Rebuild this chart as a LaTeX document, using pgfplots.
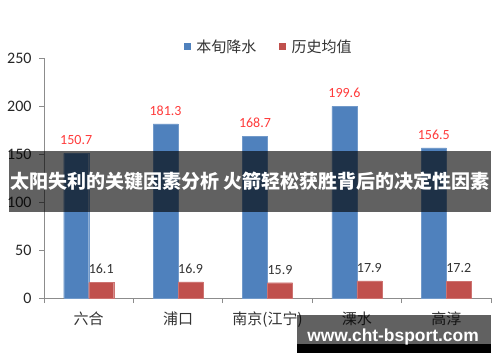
\documentclass[border=0pt]{standalone}
\usepackage{fontspec}
\setmainfont{Carlito}
\newfontfamily\cjk{Noto Sans CJK SC}
\newfontfamily\wm{Liberation Sans}
\usepackage{pgfplots}
\pgfplotsset{compat=1.18}
\definecolor{cblue}{HTML}{4F81BD}
\definecolor{cred}{HTML}{C0504D}
\definecolor{lblred}{HTML}{FF3B3B}
\definecolor{axgray}{HTML}{8C8C8C}
\definecolor{txt}{HTML}{333333}
\begin{document}
\begin{tikzpicture}[x=1pt,y=1pt]
\useasboundingbox (0,0) rectangle (500,362);
\begin{axis}[at={(44pt,64pt)}, anchor=south west, scale only axis,
  width=447pt, height=240pt,
  /pgf/number format/assume math mode=true,
  xmin=-0.5, xmax=4.5, ymin=0, ymax=250, ytick={0,50,...,250},
  xtick={0,...,4}, xticklabels={六合,浦口,南京(江宁),溧水,高淳},
  minor xtick={-0.5,0.5,...,4.5},
  axis x line*=bottom, axis y line*=left,
  axis line style={draw=axgray, line width=0.8pt},
  tick align=outside,
  major x tick style={draw=none},
  minor x tick style={draw=axgray, line width=0.8pt},
  major y tick style={draw=axgray, line width=0.8pt},
  major tick length=5pt, minor tick length=5pt,
  x tick label style={font=\cjk\fontsize{15}{18}\selectfont, text=txt, yshift=-5pt},
  y tick label style={font=\fontsize{16}{19}\selectfont, text=black!85, xshift=-4pt},
  ybar=0pt, bar width=25pt,
  legend style={at={(0.503,1.046)}, anchor=center, draw=none, fill=none,
    legend columns=2, font=\cjk\fontsize{15}{18}\selectfont, text=txt,
    /tikz/every even column/.append style={column sep=21pt}},
  legend image code/.code={\fill[#1,draw=none] (0pt,-3.5pt) rectangle (7pt,3.5pt); \path (10pt,0pt);},
  nodes near coords={\pgfmathprintnumber[fixed,fixed zerofill,precision=1]{\pgfplotspointmeta}},
  nodes near coords style={font=\fontsize{14}{16}\selectfont, anchor=south, yshift=5pt},
]
\addplot[fill=cblue, draw=cblue!80!white, every node near coord/.append style={text=lblred}]
  coordinates {(0,150.7) (1,181.3) (2,168.7) (3,199.6) (4,156.5)};
\addlegendentry{本旬降水}
\addplot[fill=cred, draw=cred!80!white, every node near coord/.append style={text=txt}]
  coordinates {(0,16.1) (1,16.9) (2,15.9) (3,17.9) (4,17.2)};
\addlegendentry{历史均值}
\end{axis}
% banner overlay
\fill[black, opacity=0.62] (9,150) rectangle (491,211);
\node[text=white, font=\cjk\bfseries\fontsize{19}{21}\selectfont, inner sep=0] at (250,180.5)
  {太阳失利的关键因素分析 火箭轻松获胜背后的决定性因素};
% watermark
\fill[black, opacity=0.62] (297,18) rectangle (491,47);
\fill[black] (297,9) rectangle (491,18);
\node[text=white, font=\wm\bfseries\fontsize{17.4}{20}\selectfont, inner sep=0] at (393,25)
  {www.cht-bsport.com};
\end{tikzpicture}
\end{document}
